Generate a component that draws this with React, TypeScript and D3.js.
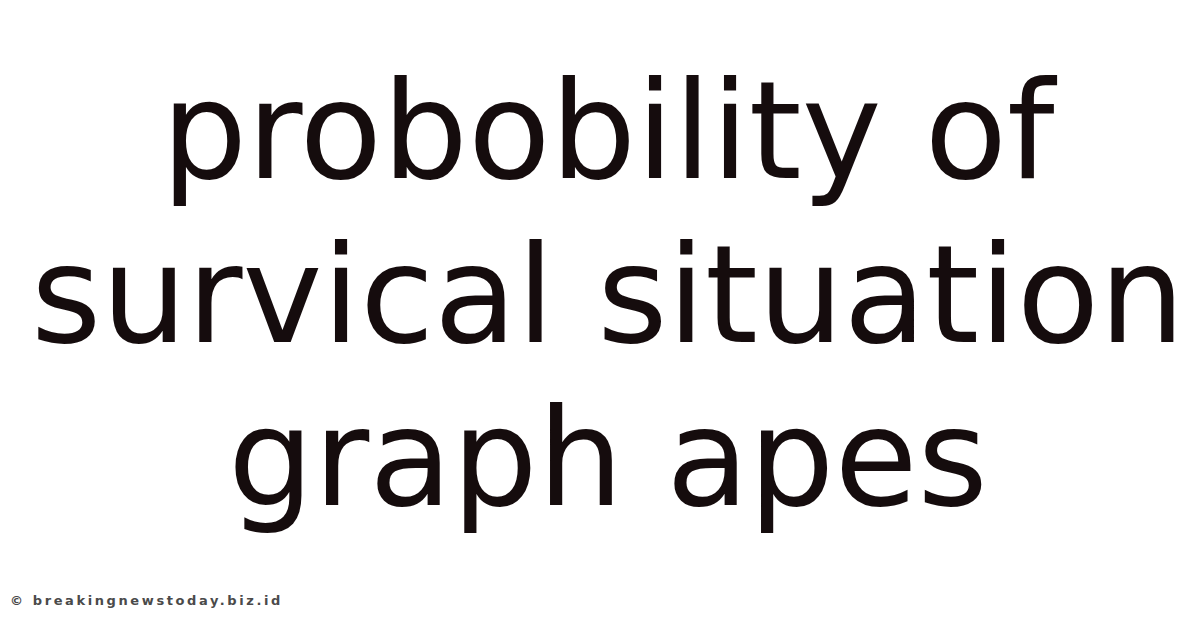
import React, { useEffect, useRef } from "react";
import * as d3 from "d3";

const titleLines = ["probobility of", "survical situation", "graph apes"];
const footerText = "© breakingnewstoday.biz.id";

const width = 1200;
const height = 628;

export default function App(): JSX.Element {
  const ref = useRef<SVGSVGElement>(null);

  useEffect(() => {
    const svg = d3.select(ref.current);
    svg.selectAll("*").remove();

    svg
      .append("rect")
      .attr("width", width)
      .attr("height", height)
      .attr("fill", "#ffffff");

    // baseline of each title line
    const yLine = d3
      .scaleLinear()
      .domain([0, titleLines.length - 1])
      .range([178, 505]);

    svg
      .append("g")
      .selectAll("text")
      .data(titleLines)
      .join("text")
      .attr("x", 608)
      .attr("y", (_, i) => yLine(i))
      .attr("text-anchor", "middle")
      .style("font-family", "'DejaVu Sans', sans-serif")
      .style("font-size", "135px")
      .style("fill", "#150c0d")
      .text((d) => d);

    svg
      .append("text")
      .attr("x", 10)
      .attr("y", 605)
      .style("font-family", "'DejaVu Sans', sans-serif")
      .style("font-size", "13px")
      .style("font-weight", "bold")
      .style("letter-spacing", "2.6px")
      .style("fill", "#4a4a4a")
      .text(footerText);
  }, []);

  return (
    <svg
      ref={ref}
      width={width}
      height={height}
      style={{ position: "absolute", left: 0, top: 0, display: "block" }}
    />
  );
}
